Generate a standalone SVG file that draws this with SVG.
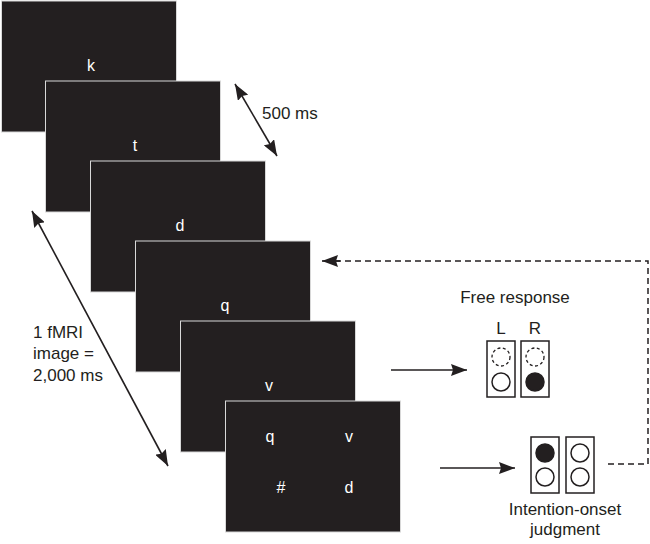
<svg xmlns="http://www.w3.org/2000/svg" width="650" height="544" viewBox="0 0 650 544">
<style>
.panel{fill:#231f20;stroke:#d8d8d8;stroke-width:1}
.lt{fill:#ffffff;font-family:"Liberation Sans",Arial,sans-serif;font-size:16px;text-anchor:middle}
.lb{fill:#231f20;font-family:"Liberation Sans",Arial,sans-serif;font-size:17px}
.box{fill:#fff;stroke:#231f20;stroke-width:1.5}
.c{fill:#fff;stroke:#231f20;stroke-width:1.5}
.cf{fill:#231f20;stroke:#231f20;stroke-width:1.5}
.cd{fill:#fff;stroke:#231f20;stroke-width:1.3;stroke-dasharray:3 2.5}
.ln{stroke:#231f20;stroke-width:1.6;fill:none}
.dl{stroke:#231f20;stroke-width:1.5;fill:none;stroke-dasharray:6 4}
</style>
<defs>
<marker id="ahb" viewBox="0 0 16 12" refX="16" refY="6" markerWidth="16" markerHeight="12" markerUnits="userSpaceOnUse" orient="auto-start-reverse">
<path d="M0,0 L16,6 L0,12 L2,6 z" fill="#231f20"/>
</marker>
</defs>
<rect width="650" height="544" fill="#fff"/>
<g id="panel1"><rect class="panel" x="1.5" y="1" width="175" height="131"/><text class="lt" x="91" y="71">k</text></g>
<g id="panel2"><rect class="panel" x="45.5" y="81" width="175" height="131"/><text class="lt" x="135" y="151">t</text></g>
<g id="panel3"><rect class="panel" x="90.5" y="161" width="175" height="131"/><text class="lt" x="180" y="231">d</text></g>
<g id="panel4"><rect class="panel" x="135.5" y="241" width="175" height="131"/><text class="lt" x="225" y="311">q</text></g>
<g id="panel5"><rect class="panel" x="180.5" y="321" width="175" height="131"/><text class="lt" x="269" y="391">v</text></g>
<g id="panel6"><rect class="panel" x="225.5" y="401" width="175" height="131"/>
<text class="lt" x="270" y="442">q</text><text class="lt" x="349" y="442">v</text>
<text class="lt" x="281" y="493">#</text><text class="lt" x="349" y="493">d</text></g>
<g id="free-response">
<text class="lb" x="515" y="303" text-anchor="middle" font-size="17.5">Free response</text>
<text class="lb" x="501" y="334" text-anchor="middle" font-size="20">L</text>
<text class="lb" x="535" y="334" text-anchor="middle" font-size="20">R</text>
<rect class="box" x="487" y="341" width="28" height="56"/>
<rect class="box" x="521" y="341" width="28" height="56"/>
<circle class="cd" cx="501" cy="357" r="9"/><circle class="c" cx="501" cy="382" r="9"/>
<circle class="cd" cx="535" cy="357" r="9"/><circle class="cf" cx="535" cy="382" r="9"/>
</g>
<g id="intention-onset">
<rect class="box" x="531" y="437" width="28" height="56"/>
<rect class="box" x="566" y="437" width="28" height="56"/>
<circle class="cf" cx="545" cy="453" r="9"/><circle class="c" cx="545" cy="477" r="9"/>
<circle class="c" cx="580" cy="453" r="9"/><circle class="c" cx="580" cy="477" r="9"/>
<text class="lb" x="565" y="515" text-anchor="middle">Intention-onset</text>
<text class="lb" x="565" y="535" text-anchor="middle">judgment</text>
</g>
<g id="connectors">
<line class="ln" x1="235" y1="84" x2="277" y2="156" marker-start="url(#ahb)" marker-end="url(#ahb)"/>
<text class="lb" x="262" y="119">500 ms</text>
<line class="ln" x1="32" y1="211" x2="168" y2="466" marker-start="url(#ahb)" marker-end="url(#ahb)"/>
<text class="lb" x="33" y="338">1 fMRI</text>
<text class="lb" x="33" y="359">image =</text>
<text class="lb" x="33" y="381">2,000 ms</text>
<line class="ln" x1="391" y1="370" x2="467" y2="370" marker-end="url(#ahb)"/>
<line class="ln" x1="440" y1="468" x2="515" y2="468" marker-end="url(#ahb)"/>
<polyline class="dl" points="608,464 648,464 648,261 336,261"/>
<line class="ln" x1="340" y1="261" x2="322" y2="261" marker-end="url(#ahb)"/>
</g>
</svg>
